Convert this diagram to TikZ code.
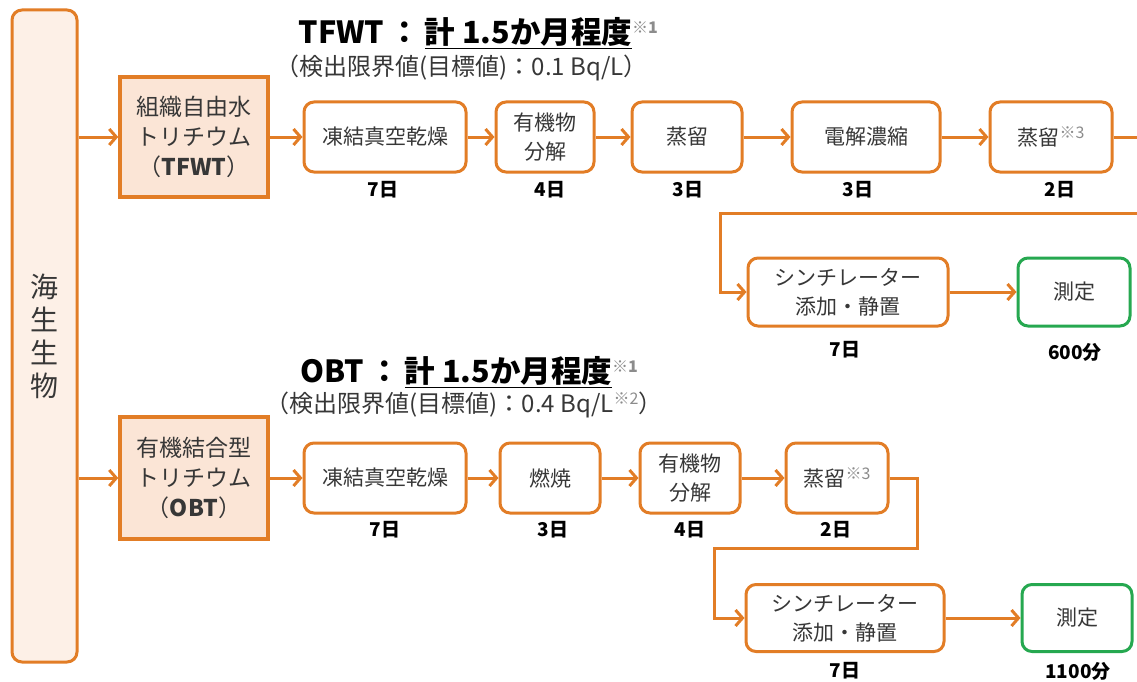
\documentclass[tikz,border=0pt]{standalone}
\usepackage{fontspec}
\setmainfont{Noto Sans CJK JP}
\usetikzlibrary{arrows.meta}
\definecolor{laranja}{RGB}{226,125,38}
\definecolor{fundo}{RGB}{251,229,214}
\definecolor{fundoclaro}{RGB}{253,240,231}
\definecolor{verde}{RGB}{38,168,80}
\definecolor{nota}{RGB}{140,140,140}
\definecolor{texto}{RGB}{55,55,55}
\newcommand{\marca}[1]{\raisebox{0.6ex}{\fontsize{16}{16}\selectfont\color{nota}#1}}

\begin{document}
\begin{tikzpicture}[x=1pt, y=-1pt,
    etapa/.style={draw=laranja, line width=3pt, rounded corners=10pt, fill=white, text=texto,
      minimum height=70pt, align=center, inner sep=2pt, font=\fontsize{21}{29}\selectfont},
    medida/.style={etapa, draw=verde},
    tipo/.style={draw=laranja, line width=3.5pt, fill=fundo, text=texto, align=center,
      minimum width=148pt, inner sep=2pt, font=\fontsize{23}{30}\selectfont},
    dias/.style={font=\bfseries\fontsize{19}{22}\selectfont},
    titulo/.style={font=\bfseries\fontsize{30.5}{34}\selectfont},
    subtitulo/.style={text=texto, font=\fontsize{24}{28}\selectfont},
    seta/.style={draw=laranja, line width=3pt, -{Straight Barb[length=7pt, width=16pt, line width=3pt]}},
  ]
  \useasboundingbox (0,0) rectangle (1137,682);

  % Amostra
  \node[draw=laranja, line width=3pt, rounded corners=10pt, fill=fundoclaro, text=texto, align=center,
    minimum width=65pt, minimum height=652pt, font=\fontsize{28}{33}\selectfont] (mar) at (44.5,336) {海\\生\\生\\物};

  % TFWT
  \node[titulo, anchor=west] (ttit) at (295,33) {TFWT\,：\,\underline{計 1.5か月程度}\marca{※1}};
  \node[subtitulo, anchor=west] (tsub) at (272,68) {（検出限界値(目標値)：0.1 Bq/L）};
  \node[tipo, minimum height=120pt] (tfwt) at (194,137) {組織自由水\\トリチウム\\（\textbf{TFWT}）};
  \node[etapa, minimum width=162pt] (t1) at (385,137) {凍結真空乾燥};
  \node[etapa, minimum width=98pt] (t2) at (545,137) {有機物\\分解};
  \node[etapa, minimum width=110pt] (t3) at (687,137) {蒸留};
  \node[etapa, minimum width=148pt] (t4) at (866,137) {電解濃縮};
  \node[etapa, minimum width=122pt] (t5) at (1051,137) {蒸留\marca{※3}};
  \node[etapa, minimum width=200pt, minimum height=68pt] (t6) at (848,292) {シンチレーター\\添加・静置};
  \node[medida, minimum width=112pt, minimum height=68pt] (t7) at (1074,292) {測定};

  \node[dias] (td1) at (383,190) {7日};
  \node[dias] (td2) at (550,190) {4日};
  \node[dias] (td3) at (688,190) {3日};
  \node[dias] (td4) at (858,190) {3日};
  \node[dias] (td5) at (1060,190) {2日};
  \node[dias] (td6) at (845,350) {7日};
  \node[dias] (td7) at (1075,352) {600分};

  \coordinate (tcanto) at (1150,213);
  \coordinate (tdesce) at (720,213);
  \draw[seta] (mar.east |- tfwt.west) -- (tfwt.west);
  \draw[seta] (tfwt) -- (t1);
  \draw[seta] (t1) -- (t2);
  \draw[seta] (t2) -- (t3);
  \draw[seta] (t3) -- (t4);
  \draw[seta] (t4) -- (t5);
  \draw[seta] (t5.east) -| (tcanto) -- (tdesce) |- (t6.west);
  \draw[seta] (t6) -- (t7);

  % OBT
  \node[titulo, anchor=west] (otit) at (297,372) {OBT\,：\,\underline{計 1.5か月程度}\marca{※1}};
  \node[subtitulo, anchor=west] (osub) at (262,405) {（検出限界値(目標値)：0.4 Bq/L\marca{※2}）};
  \node[tipo, minimum height=122pt] (obt) at (194,478) {有機結合型\\トリチウム\\（\textbf{OBT}）};
  \node[etapa, minimum width=162pt] (o1) at (385,478) {凍結真空乾燥};
  \node[etapa, minimum width=100pt] (o2) at (550,478) {燃焼};
  \node[etapa, minimum width=100pt] (o3) at (690,478) {有機物\\分解};
  \node[etapa, minimum width=102pt] (o4) at (837,478) {蒸留\marca{※3}};
  \node[etapa, minimum width=198pt, minimum height=67pt] (o5) at (845,618) {シンチレーター\\添加・静置};
  \node[medida, minimum width=110pt, minimum height=67pt] (o6) at (1077,618) {測定};

  \node[dias] (od1) at (385,530) {7日};
  \node[dias] (od2) at (553,530) {3日};
  \node[dias] (od3) at (690,530) {4日};
  \node[dias] (od4) at (836,530) {2日};
  \node[dias] (od5) at (845,671) {7日};
  \node[dias] (od6) at (1078,671) {1100分};

  \coordinate (ocanto) at (917,548);
  \coordinate (odesce) at (714,548);
  \draw[seta] (mar.east |- obt.west) -- (obt.west);
  \draw[seta] (obt) -- (o1);
  \draw[seta] (o1) -- (o2);
  \draw[seta] (o2) -- (o3);
  \draw[seta] (o3) -- (o4);
  \draw[seta] (o4.east) -| (ocanto) -- (odesce) |- (o5.west);
  \draw[seta] (o5) -- (o6);
\end{tikzpicture}
\end{document}
